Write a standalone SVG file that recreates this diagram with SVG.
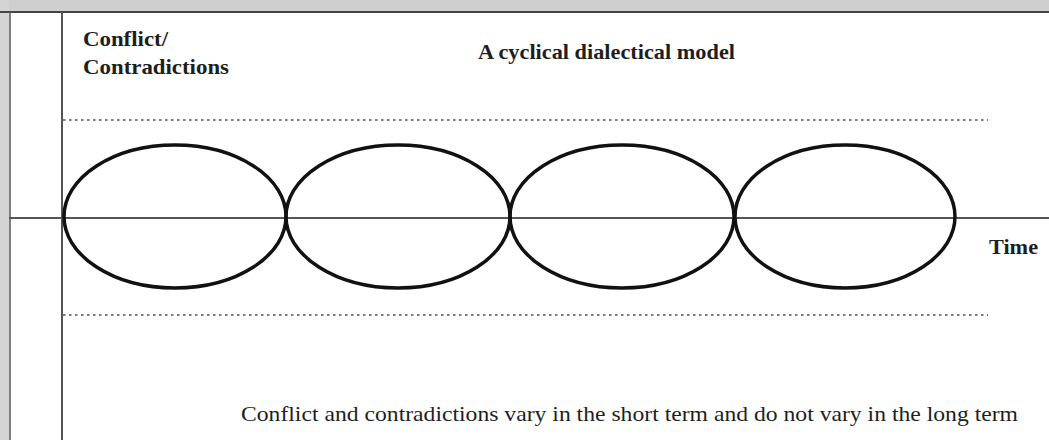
<svg xmlns="http://www.w3.org/2000/svg" width="1049" height="440" viewBox="0 0 1049 440">
<style>
.t{font-family:"Liberation Serif","Times New Roman",serif;fill:#1e1e1e}
.b{font-weight:bold;font-size:21px}
.r{font-size:21px}
.cyc{fill:none;stroke:#111;stroke-width:3.5}
.dot{stroke:#7a7a7a;stroke-width:2;stroke-dasharray:2.5 3.5}
.ax{stroke:#555;stroke-width:2}
</style>
<rect width="1049" height="440" fill="#fff"/>
<g id="frame">
<rect x="0" y="0" width="1049" height="11" fill="#cfcfcf"/>
<rect x="0" y="0" width="9" height="440" fill="#d4d4d4"/>
<line x1="0" y1="12" x2="1049" y2="12" stroke="#444" stroke-width="2"/>
<line x1="10" y1="12" x2="10" y2="440" stroke="#555" stroke-width="1.5"/>
</g>
<g id="axes">
<line class="ax" x1="62" y1="12" x2="62" y2="440" stroke="#333"/>
<line class="ax" x1="9" y1="218" x2="1049" y2="218" stroke="#666"/>
<line class="dot" x1="63" y1="120" x2="988" y2="120"/>
<line class="dot" x1="63" y1="315" x2="988" y2="315"/>
</g>
<g id="cycles">
<ellipse id="cycle1" class="cyc" cx="175" cy="216.5" rx="111" ry="71.5"/>
<ellipse id="cycle2" class="cyc" cx="398" cy="216.5" rx="112" ry="71.5"/>
<ellipse id="cycle3" class="cyc" cx="622" cy="216.5" rx="112" ry="71.5"/>
<ellipse id="cycle4" class="cyc" cx="845" cy="216.5" rx="110" ry="71.5"/>
</g>
<g id="labels">
<text class="t b" x="83" y="46" textLength="85" lengthAdjust="spacingAndGlyphs">Conflict/</text>
<text class="t b" x="83" y="74" textLength="146" lengthAdjust="spacingAndGlyphs">Contradictions</text>
<text class="t b" x="478" y="59" textLength="257" lengthAdjust="spacingAndGlyphs">A cyclical dialectical model</text>
<text class="t b" x="989" y="254" textLength="49" lengthAdjust="spacingAndGlyphs">Time</text>
<text class="t r" x="241" y="421" textLength="777" lengthAdjust="spacingAndGlyphs">Conflict and contradictions vary in the short term and do not vary in the long term</text>
</g>
</svg>
